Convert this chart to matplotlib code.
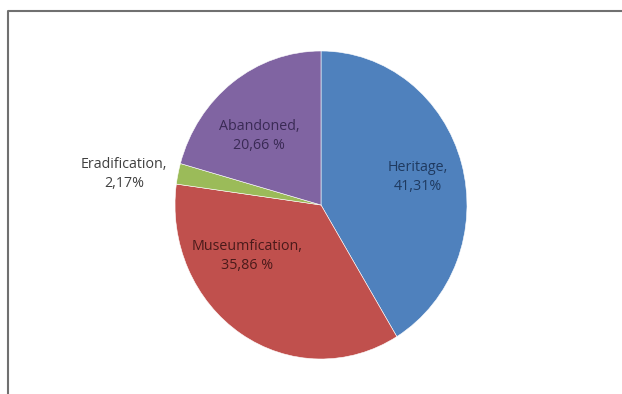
import matplotlib
matplotlib.use('Agg')
import matplotlib.pyplot as plt
from matplotlib.lines import Line2D

# ── 数据 ──
labels = ['Heritage', 'Museumfication', 'Eradification', 'Abandoned']
values = [41.31, 35.86, 2.17, 20.66]
pct_text = ['41,31%', '35,86 %', '2,17%', '20,66 %']
colors = ['#4F81BD', '#C0504D', '#9BBB59', '#8064A2']
text_colors = ['#1F3A60', '#4A1A1A', '#404040', '#3A2A55']

W, H = 622, 394
fig = plt.figure(figsize=(W / 100, H / 100), dpi=100)

# 饼图轴 (原图略微拉伸: 横向半径 146, 纵向 154)
cx, cy, rx, ry = 321, 205, 146, 154
pax = fig.add_axes([(cx - rx) / W, 1 - (cy + ry) / H, 2 * rx / W, 2 * ry / H])
pax.pie(values, colors=colors, startangle=90, counterclock=False,
        radius=1, wedgeprops=dict(edgecolor='white', linewidth=0.4))
pax.set_aspect('auto')
pax.set_xlim(-1, 1)
pax.set_ylim(-1, 1)
pax.axis('off')

# 文字轴 (像素坐标)
ax = fig.add_axes([0, 0, 1, 1], zorder=3)
ax.set_xlim(0, W)
ax.set_ylim(H, 0)
ax.axis('off')

label_pos = [(418, 177), (247, 256), (124, 174), (259, 136)]
for lab, pt, (x, y), c in zip(labels, pct_text, label_pos, text_colors):
    ax.text(x, y, f'{lab},\n{pt}', ha='center', va='center',
            fontsize=10.3, color=c, family='Open Sans', linespacing=1.35)

# 外框 (只看到左边和上边)
fig.add_artist(Line2D([8 / W, 8 / W, 1], [0, 1 - 11 / H, 1 - 11 / H],
                      transform=fig.transFigure, color='#707070', lw=1.5))

fig.savefig('out.png', dpi=100, facecolor='white')
